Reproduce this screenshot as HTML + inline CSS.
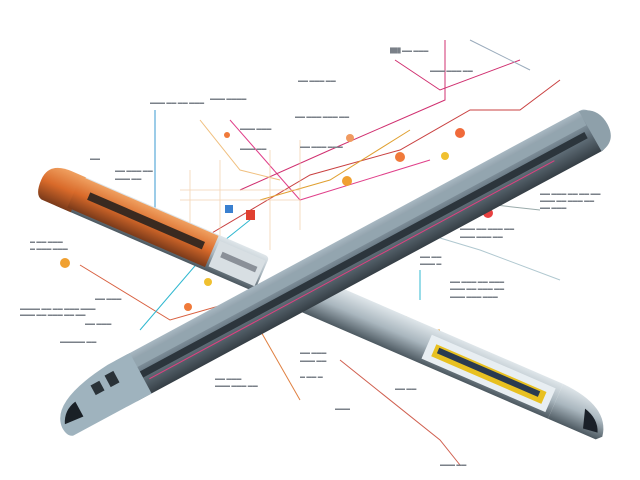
<!DOCTYPE html>
<html><head><style>
html,body{margin:0;padding:0;background:#fff}
svg{display:block}
text{font-family:"Liberation Sans",sans-serif;font-size:5px;fill:#7a8088}
</style></head><body>
<svg width="640" height="480" viewBox="0 0 640 480">
<defs>
<linearGradient id="gA" x1="0" y1="0" x2="0" y2="1">
<stop offset="0" stop-color="#a8b8c2"/><stop offset="0.45" stop-color="#6f7f8a"/><stop offset="1" stop-color="#353e45"/></linearGradient>
<linearGradient id="gO" x1="0" y1="0" x2="0" y2="1">
<stop offset="0" stop-color="#f0a060"/><stop offset="0.5" stop-color="#d96a2a"/><stop offset="1" stop-color="#7a3a1a"/></linearGradient>
<linearGradient id="gB" x1="0" y1="0" x2="0" y2="1">
<stop offset="0" stop-color="#dfe6ea"/><stop offset="0.5" stop-color="#a9b6be"/><stop offset="1" stop-color="#4c5860"/></linearGradient>
</defs>
<!-- connector lines -->
<g fill="none" stroke-width="1">
<polyline points="155,110 155,240" stroke="#3a9ad0"/>
<polyline points="230,120 300,200 430,160" stroke="#e0408a"/>
<polyline points="240,190 330,150 445,100 445,40" stroke="#d03070"/>
<polyline points="200,240 310,175 400,150 470,110 520,110 560,80" stroke="#c94040"/>
<polyline points="80,265 170,320 240,300" stroke="#d86040"/>
<polyline points="140,330 200,260 250,220" stroke="#30b8d0"/>
<polyline points="260,330 300,400" stroke="#e08040"/>
<polyline points="330,320 360,330 440,330" stroke="#e0a040"/>
<polyline points="420,270 420,300" stroke="#30b8d0"/>
<polyline points="340,360 440,440 460,465" stroke="#d06050"/>
<polyline points="395,60 440,90 520,60" stroke="#d03070"/>
<polyline points="260,200 330,180 410,130" stroke="#e0a030"/>
<polyline points="470,40 530,70" stroke="#9ab"/>
<polyline points="380,220 480,250 560,280" stroke="#b0c8d0"/>
<polyline points="200,120 240,170 280,180" stroke="#f0c080"/>
<polyline points="450,200 540,210" stroke="#9aa"/>
</g>
<g stroke="#f1c9a0" stroke-width="0.8" fill="none" opacity="0.8">
<line x1="180" y1="190" x2="300" y2="190"/><line x1="180" y1="200" x2="300" y2="200"/>
<line x1="190" y1="170" x2="190" y2="240"/><line x1="220" y1="160" x2="220" y2="250"/>
<line x1="270" y1="150" x2="270" y2="250"/><line x1="300" y1="140" x2="300" y2="230"/>
</g>
<g>
<circle cx="460" cy="133" r="5" fill="#f06a3a"/><circle cx="400" cy="157" r="5" fill="#f07a3a"/>
<circle cx="347" cy="181" r="5" fill="#f0a030"/><circle cx="65" cy="263" r="5" fill="#f0a030"/>
<circle cx="488" cy="213" r="5" fill="#e84040"/><circle cx="350" cy="138" r="4" fill="#f09a60"/>
<circle cx="445" cy="156" r="4" fill="#f0c030"/><circle cx="208" cy="282" r="4" fill="#f0c030"/>
<circle cx="405" cy="320" r="4" fill="#f0c030"/><circle cx="188" cy="307" r="4" fill="#f07a3a"/>
<rect x="225" y="205" width="8" height="8" fill="#3a80d0"/><rect x="246" y="210" width="9" height="10" fill="#e04030"/>
<circle cx="227" cy="135" r="3" fill="#f07a3a"/>
</g>
<!-- Train B -->
<g transform="translate(42,178) rotate(23.4)">
<rect x="20" y="-18" width="220" height="38" rx="4" fill="url(#gB)"/>
<path d="M0,2 Q0,-18 25,-18 L40,-18 L40,20 L8,20 Q0,18 0,2Z" fill="url(#gO)"/>
<rect x="35" y="-17" width="150" height="34" fill="url(#gO)"/>
<rect x="50" y="-6" width="125" height="8" fill="#3a2a20"/>
<rect x="188" y="-13" width="50" height="28" fill="#d8dfe3"/>
<rect x="195" y="-4" width="38" height="6" fill="#8a9098"/>
<rect x="290" y="-18" width="270" height="38" fill="url(#gB)"/>
<rect x="420" y="-11" width="135" height="26" fill="#e8eef2"/>
<rect x="428" y="-4" width="120" height="13" fill="#e8c020"/>
<rect x="432" y="-2" width="110" height="6" fill="#2a3a50"/>
<path d="M560,-18 Q612,-16 617,15 L612,20 L560,20Z" fill="url(#gB)"/>
<path d="M590,-4 Q606,0 611,13 L596,15Z" fill="#1a2028"/>
</g>
<!-- Train A -->
<g transform="translate(58,420) rotate(-28.3)">
<rect x="70" y="-25" width="545" height="46" rx="9" fill="url(#gA)"/>
<rect x="90" y="-18" width="515" height="9" fill="#93a5af"/>
<rect x="95" y="-4" width="505" height="7" fill="#2c353c"/>
<line x1="100" y1="7" x2="560" y2="7" stroke="#e04080" stroke-width="1"/>
<path d="M0,9 Q2,-20 70,-25 L95,-25 L95,21 L6,21 Q0,19 0,9Z" fill="#9fb3be"/>
<path d="M4,7 Q10,-6 24,-8 L24,9 Z" fill="#1a2026"/>
<rect x="45" y="-15" width="10" height="11" fill="#2a3238"/>
<rect x="62" y="-17" width="10" height="13" fill="#2a3238"/>
<path d="M605,-25 Q624,-20 624,0 Q624,19 606,21 Z" fill="#8ea0aa"/>
</g>
<g>
<text x="390" y="52">███ ▬▬ ▬▬▬</text>
<text x="150" y="104">▬▬▬ ▬▬ ▬▬ ▬▬▬</text><text x="210" y="100">▬▬▬ ▬▬▬▬</text>
<text x="298" y="82">▬▬ ▬▬▬ ▬▬</text><text x="430" y="72">▬▬▬ ▬▬▬ ▬▬</text>
<text x="240" y="130">▬▬▬ ▬▬▬</text><text x="295" y="118">▬▬ ▬▬▬ ▬▬▬ ▬▬</text>
<text x="300" y="148">▬▬ ▬▬▬ ▬▬▬</text><text x="240" y="150">▬▬▬ ▬▬</text>
<text x="115" y="172">▬▬ ▬▬▬ ▬▬</text><text x="115" y="180">▬▬▬ ▬▬</text><text x="90" y="160">▬▬</text>
<text x="30" y="243" fill="#3a90c0">▬ ▬▬ ▬▬▬</text><text x="30" y="250" fill="#3a90c0">▬ ▬▬▬ ▬▬▬</text>
<text x="20" y="310">▬▬▬▬ ▬▬ ▬▬ ▬▬▬ ▬▬▬</text><text x="20" y="316">▬▬▬ ▬▬ ▬▬▬ ▬▬ ▬▬</text><text x="85" y="325">▬▬ ▬▬▬</text>
<text x="95" y="300">▬▬ ▬▬▬</text><text x="60" y="343">▬▬▬▬▬ ▬▬</text>
<text x="540" y="195">▬▬ ▬▬▬ ▬▬ ▬▬ ▬▬</text><text x="540" y="202">▬▬▬ ▬▬ ▬▬▬ ▬▬</text><text x="540" y="209">▬▬ ▬▬▬</text>
<text x="460" y="230">▬▬▬ ▬▬ ▬▬▬ ▬▬</text><text x="460" y="238">▬▬▬ ▬▬▬ ▬▬</text>
<text x="450" y="283">▬▬ ▬▬▬ ▬▬ ▬▬▬</text><text x="450" y="290">▬▬▬ ▬▬ ▬▬▬ ▬▬</text><text x="450" y="298">▬▬▬ ▬▬▬ ▬▬▬</text>
<text x="420" y="258">▬▬ ▬▬</text><text x="420" y="265">▬▬▬ ▬</text>
<text x="300" y="354">▬▬ ▬▬▬</text><text x="300" y="362">▬▬▬ ▬▬</text><text x="300" y="378">▬ ▬▬ ▬</text>
<text x="215" y="380">▬▬ ▬▬▬</text><text x="215" y="387">▬▬▬ ▬▬▬ ▬▬</text>
<text x="395" y="390">▬▬ ▬▬</text><text x="335" y="410">▬▬▬</text><text x="440" y="466">▬▬▬ ▬▬</text>
</g>
</svg>
</body></html>
